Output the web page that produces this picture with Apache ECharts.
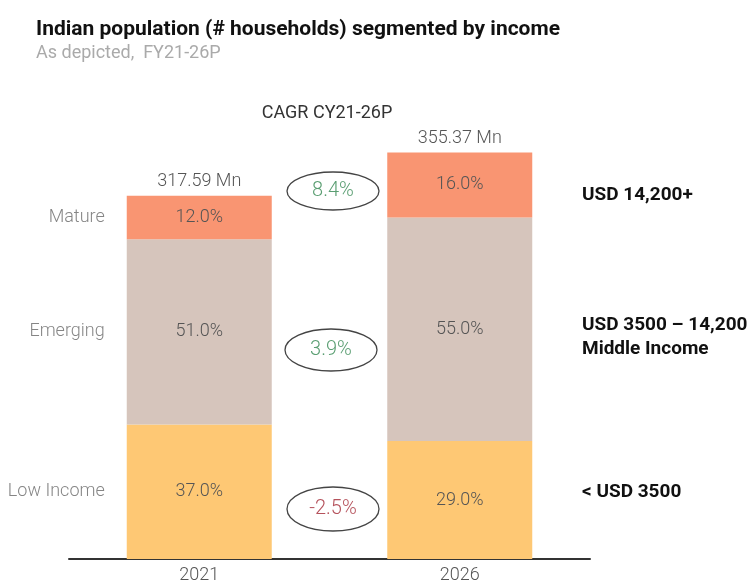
<!DOCTYPE html>
<html lang="en">
<head>
<meta charset="UTF-8">
<title>Indian population segmented by income</title>
<script src="https://cdn.jsdelivr.net/npm/echarts@6/dist/echarts.min.js"></script>
<style>
  html, body { margin: 0; padding: 0; background: #fff; }
  #chart { width: 754px; height: 585px; }
</style>
</head>
<body>
<div id="chart"></div>
<script>
// data
var years = ['2021', '2026'];
var totals = [317.59, 355.37];            // Mn households
var segments = ['Low Income', 'Emerging', 'Mature'];
var lowShare = [37.0, 29.0];
var emergingShare = [51.0, 55.0];
var matureShare = [12.0, 16.0];
var cagr = [8.4, 3.9, -2.5];              // mature, emerging, low
var bandLabels = ['USD 14,200+', 'USD 3500 \u2013 14,200\nMiddle Income', '< USD 3500'];

var shares = [lowShare, emergingShare, matureShare];
var colors = ['#fec874', '#d6c5bc', '#f99572'];

var chart = echarts.init(document.getElementById('chart'));

function segValues(share) {
    return share.map(function (s, i) { return totals[i] * s / 100; });
}

var labelFont = { color: '#555', fontSize: 18, fontFamily: 'Roboto', fontWeight: 300 };

var series = [];
for (var k = 0; k < 3; k++) {
    series.push({
        name: segments[k],
        type: 'bar',
        stack: 'hh',
        barWidth: 145,
        itemStyle: { color: colors[k] },
        label: Object.assign({
            show: true,
            position: 'inside',
            formatter: (function (share) {
                return function (p) { return share[p.dataIndex].toFixed(1) + '%'; };
            })(shares[k])
        }, labelFont),
        data: segValues(shares[k])
    });
}

// total above each bar
series.push({
    type: 'bar',
    stack: 'hh',
    barWidth: 145,
    data: [0, 0],
    itemStyle: { color: 'transparent' },
    label: Object.assign({
        show: true,
        position: 'top',
        distance: 5,
        formatter: function (p) { return totals[p.dataIndex].toFixed(2) + ' Mn'; }
    }, labelFont)
});

// segment names beside the first bar
var mids = [];
var acc = 0;
for (var k = 0; k < 3; k++) {
    var v = totals[0] * shares[k][0] / 100;
    mids.push([years[0], acc + v / 2, segments[k]]);
    acc += v;
}
series.push({
    type: 'scatter',
    symbolSize: 1,
    itemStyle: { color: 'transparent' },
    silent: true,
    label: Object.assign({
        show: true,
        position: 'left',
        distance: 94,
        formatter: function (p) { return p.data[2]; }
    }, labelFont, { color: '#666' }),
    data: mids
});

function cagrBubble(val, cx, cy, ry) {
    return {
        type: 'group',
        x: cx,
        y: cy,
        children: [
            { type: 'ellipse', shape: { cx: 0, cy: 0, rx: 46, ry: ry },
              style: { fill: '#fff', stroke: '#444', lineWidth: 1.3 } },
            { type: 'text', x: 0, y: 0,
              style: { text: val.toFixed(1) + '%', fill: val < 0 ? '#b5525c' : '#5a9e72',
                       font: '300 20px Roboto', align: 'center', verticalAlign: 'middle' } }
        ]
    };
}

var option = {
    animation: false,
    title: {
        text: 'Indian population (# households) segmented by income',
        subtext: 'As depicted,  FY21-26P',
        left: 31,
        top: 14,
        itemGap: 4,
        textStyle: { fontFamily: 'Roboto', fontSize: 21, fontWeight: 'bold', color: '#111' },
        subtextStyle: { fontFamily: 'Roboto', fontSize: 18, color: '#aaa' }
    },
    grid: { left: 69, right: 164, top: 101.4, bottom: 26 },
    xAxis: {
        type: 'category',
        data: years,
        axisLine: { lineStyle: { color: '#333', width: 2 } },
        axisTick: { show: false },
        axisLabel: Object.assign({ margin: 7 }, labelFont)
    },
    yAxis: { type: 'value', min: 0, max: 400, show: false, splitLine: { show: false } },
    series: series,
    graphic: [
        { type: 'text', x: 327, y: 113,
          style: { text: 'CAGR CY21-26P', fill: '#333', font: '18px Roboto',
                   align: 'center', verticalAlign: 'middle' } },
        cagrBubble(cagr[0], 333, 191, 19),
        cagrBubble(cagr[1], 331, 350, 21),
        cagrBubble(cagr[2], 333, 509, 22),
        { type: 'text', left: 582, top: 186,
          style: { text: bandLabels[0], fill: '#111', font: 'bold 19px Roboto' } },
        { type: 'text', left: 582, top: 313,
          style: { text: bandLabels[1], fill: '#111', font: 'bold 19px Roboto', lineHeight: 24 } },
        { type: 'text', left: 582, top: 483,
          style: { text: bandLabels[2], fill: '#111', font: 'bold 19px Roboto' } }
    ]
};

chart.setOption(option);
</script>
</body>
</html>
